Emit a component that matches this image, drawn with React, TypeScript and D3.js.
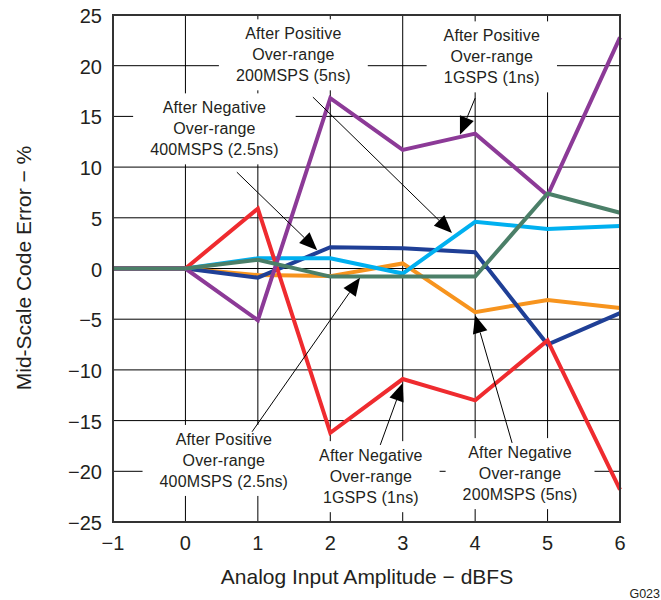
import React, { useEffect, useRef } from "react";
import * as d3 from "d3";

// amplitude (dBFS) on the x axis
const amplitude = [-1, 0, 1, 2, 3, 4, 5, 6];

const posOver200 = [0, 0, 1.0, 1.0, -0.5, 4.6, 3.9, 4.2]; // cyan
const posOver1G = [0, 0, -5.1, 16.8, 11.7, 13.3, 7.2, 22.8]; // purple
const negOver400 = [0, 0, -0.9, 2.1, 2.0, 1.6, -7.5, -4.4]; // navy
const posOver400 = [0, 0, 0.85, -0.8, -0.8, -0.8, 7.4, 5.5]; // green
const negOver1G = [0, 0, 5.9, -16.2, -10.9, -13.0, -7.1, -21.8]; // red
const negOver200 = [0, 0, -0.65, -0.75, 0.5, -4.3, -3.1, -3.9]; // orange

const xTicks = [-1, 0, 1, 2, 3, 4, 5, 6];
const yTicks = [-25, -20, -15, -10, -5, 0, 5, 10, 15, 20, 25];

const series = [
  { name: "negOver200", values: negOver200, color: "#F7941E" },
  { name: "negOver400", values: negOver400, color: "#1F3F96" },
  { name: "posOver200", values: posOver200, color: "#00B0F0" },
  { name: "negOver1G", values: negOver1G, color: "#EF2B2F" },
  { name: "posOver1G", values: posOver1G, color: "#8C3A97" },
  { name: "posOver400", values: posOver400, color: "#4B7F68" },
];

// callouts, positions in data units
const callouts = [
  { lines: ["After Positive", "Over-range", "200MSPS (5ns)"], cx: 1.49, ty: 22.6, from: [1.76, 16.9], to: [3.68, 3.5] },
  { lines: ["After Positive", "Over-range", "1GSPS (1ns)"], cx: 4.23, ty: 22.4, from: [4.0, 16.8], to: [3.79, 13.2] },
  { lines: ["After Negative", "Over-range", "400MSPS (2.5ns)"], cx: 0.4, ty: 15.3, from: [0.71, 9.5], to: [1.82, 1.8] },
  { lines: ["After Positive", "Over-range", "400MSPS (2.5ns)"], cx: 0.53, ty: -17.4, from: [0.92, -16.1], to: [2.41, -0.9] },
  { lines: ["After Negative", "Over-range", "1GSPS (1ns)"], cx: 2.56, ty: -19.0, from: [2.69, -17.4], to: [3.0, -11.3] },
  { lines: ["After Negative", "Over-range", "200MSPS (5ns)"], cx: 4.62, ty: -18.7, from: [4.51, -17.2], to: [4.0, -4.6] },
];

const FONT = "'Liberation Sans', Arial, sans-serif";
const INK = "#231F20";

const App: React.FC = () => {
  const svgRef = useRef<SVGSVGElement>(null);

  useEffect(() => {
    const svg = d3.select(svgRef.current);
    svg.selectAll("*").remove();
    const margin = { top: 15, right: 41, bottom: 78, left: 113 };
    const width = 661;
    const height = 600;

    const x = d3.scaleLinear().domain([-1, 6]).range([margin.left, width - margin.right]);
    const y = d3.scaleLinear().domain([-25, 25]).range([height - margin.bottom, margin.top]);

    // grid
    const grid = svg.append("g");
    grid
      .selectAll("line.v")
      .data(xTicks)
      .join("line")
      .attr("x1", (d) => x(d))
      .attr("x2", (d) => x(d))
      .attr("y1", y(25))
      .attr("y2", y(-25))
      .attr("stroke", "#000")
      .attr("stroke-width", 1);
    grid
      .selectAll("line.h")
      .data(yTicks)
      .join("line")
      .attr("x1", x(-1))
      .attr("x2", x(6))
      .attr("y1", (d) => y(d))
      .attr("y2", (d) => y(d))
      .attr("stroke", "#000")
      .attr("stroke-width", 1);

    // callout boxes and text
    const labels = svg.append("g");
    callouts.forEach((c) => {
      const g = labels.append("g");
      const rect = g.append("rect").attr("fill", "#fff");
      const t = g
        .append("text")
        .attr("font-family", FONT)
        .attr("font-size", 16)
        .attr("letter-spacing", 0.15)
        .attr("fill", INK)
        .attr("text-anchor", "middle");
      c.lines.forEach((ln, i) => {
        t.append("tspan")
          .attr("x", x(c.cx))
          .attr("y", y(c.ty) + i * 21)
          .text(ln);
      });
      const bb = (t.node() as SVGTextElement).getBBox();
      rect
        .attr("x", bb.x - 17)
        .attr("y", bb.y - 6)
        .attr("width", bb.width + 34)
        .attr("height", bb.height + 12);
    });

    // data lines
    const line = d3
      .line<number>()
      .x((_, i) => x(amplitude[i]))
      .y((d) => y(d));
    svg
      .append("g")
      .selectAll("path")
      .data(series)
      .join("path")
      .attr("d", (s) => line(s.values))
      .attr("fill", "none")
      .attr("stroke", (s) => s.color)
      .attr("stroke-width", 4)
      .attr("stroke-linejoin", "miter");

    // raise text above lines
    labels.selectAll("text").each(function () {
      svg.node()!.appendChild(this as Element);
    });

    // arrows
    const arrows = svg.append("g");
    callouts.forEach((c) => {
      const x1 = x(c.from[0]);
      const y1 = y(c.from[1]);
      const x2 = x(c.to[0]);
      const y2 = y(c.to[1]);
      const ang = Math.atan2(y2 - y1, x2 - x1);
      const len = 18;
      const hw = 7.5;
      const bx = x2 - len * Math.cos(ang);
      const by = y2 - len * Math.sin(ang);
      arrows
        .append("line")
        .attr("x1", x1)
        .attr("y1", y1)
        .attr("x2", bx)
        .attr("y2", by)
        .attr("stroke", "#000")
        .attr("stroke-width", 1);
      const px = -Math.sin(ang) * hw;
      const py = Math.cos(ang) * hw;
      arrows
        .append("path")
        .attr("d", `M${x2},${y2}L${bx + px},${by + py}L${bx - px},${by - py}Z`)
        .attr("fill", "#000");
    });

    // frame
    svg
      .append("rect")
      .attr("x", x(-1))
      .attr("y", y(25))
      .attr("width", x(6) - x(-1))
      .attr("height", y(-25) - y(25))
      .attr("fill", "none")
      .attr("stroke", "#333")
      .attr("stroke-width", 2);

    // tick labels
    const fmt = (d: number) => (d < 0 ? "\u2212" + Math.abs(d) : String(d));
    svg
      .append("g")
      .selectAll("text")
      .data(xTicks)
      .join("text")
      .attr("x", (d) => x(d))
      .attr("y", y(-25) + 28)
      .attr("text-anchor", "middle")
      .attr("font-family", FONT)
      .attr("font-size", 20)
      .attr("fill", INK)
      .text(fmt);
    svg
      .append("g")
      .selectAll("text")
      .data(yTicks)
      .join("text")
      .attr("x", x(-1) - 11)
      .attr("y", (d) => y(d) + 8)
      .attr("text-anchor", "end")
      .attr("font-family", FONT)
      .attr("font-size", 20)
      .attr("fill", INK)
      .text(fmt);

    // axis titles
    svg
      .append("text")
      .attr("x", 367)
      .attr("y", 584)
      .attr("text-anchor", "middle")
      .attr("font-family", FONT)
      .attr("font-size", 21)
      .attr("fill", INK)
      .text("Analog Input Amplitude \u2212 dBFS");
    svg
      .append("text")
      .attr("transform", "translate(31,268) rotate(-90)")
      .attr("text-anchor", "middle")
      .attr("font-family", FONT)
      .attr("font-size", 21)
      .attr("fill", INK)
      .text("Mid-Scale Code Error \u2212 %");

    svg
      .append("text")
      .attr("x", 660)
      .attr("y", 598)
      .attr("text-anchor", "end")
      .attr("font-family", FONT)
      .attr("font-size", 12.5)
      .attr("fill", INK)
      .text("G023");
  }, []);

  return (
    <svg
      ref={svgRef}
      width={661}
      height={600}
      style={{ position: "absolute", left: 0, top: 0, background: "#fff" }}
    />
  );
};

export default App;
